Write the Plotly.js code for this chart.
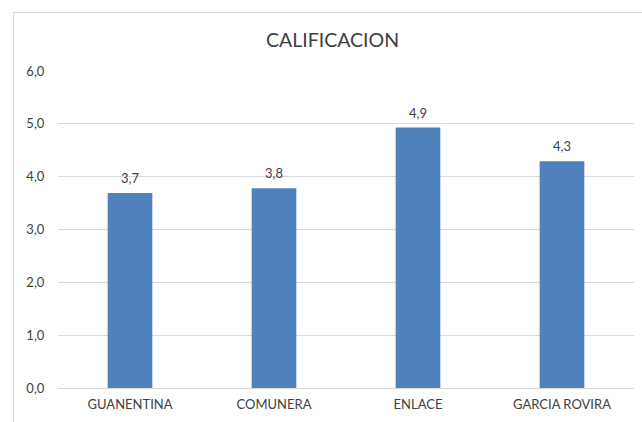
<!DOCTYPE html>
<html>
<head>
<meta charset="utf-8">
<script src="https://cdn.plot.ly/plotly-3.0.1.min.js"></script>
<style>
html,body{margin:0;padding:0;background:#fff;}
#wrap{position:relative;width:642px;height:422px;overflow:hidden;}
#frame{position:absolute;left:13px;top:12px;width:700px;height:500px;border:1px solid #d9d9d9;box-sizing:border-box;pointer-events:none;}
#chart{position:absolute;left:0;top:0;width:642px;height:422px;}
</style>
</head>
<body>
<div id="wrap">
<div id="chart"></div>
<div id="frame"></div>
</div>
<script>
var categories = ["GUANENTINA", "COMUNERA", "ENLACE", "GARCIA ROVIRA"];
var values = [3.69, 3.78, 4.93, 4.29];
var yTicks = [0, 1, 2, 3, 4, 5, 6];

var FONT = "Lato, 'Open Sans', sans-serif";

var trace = {
  type: "bar",
  x: categories,
  y: values,
  marker: {color: "#4F81BD"},
  hoverinfo: "none"
};

var labels = categories.map(function (c, i) {
  return {
    x: c, y: values[i], xref: "x", yref: "y",
    text: values[i].toFixed(1).replace(".", ","),
    showarrow: false, yanchor: "bottom", yshift: 5,
    font: {family: FONT, size: 13, color: "#404040"}
  };
});

var layout = {
  width: 642,
  height: 422,
  separators: ",.",
  paper_bgcolor: "#ffffff",
  plot_bgcolor: "#ffffff",
  margin: {l: 58, r: 8, t: 71, b: 34},
  bargap: 0.69,
  showlegend: false,
  font: {family: FONT, color: "#595959", size: 13},
  title: {
    text: "CALIFICACION",
    font: {family: FONT, size: 19.5, color: "#404040"},
    x: 0.518, xref: "container", xanchor: "center",
    y: 0.905, yref: "container", yanchor: "middle"
  },
  annotations: labels,
  xaxis: {
    type: "category",
    showgrid: false,
    showline: false,
    zeroline: false,
    ticks: "outside",
    ticklen: 4,
    tickcolor: "rgba(0,0,0,0)",
    tickfont: {size: 13, color: "#404040"}
  },
  yaxis: {
    range: [0, 6],
    tickvals: yTicks,
    tickformat: ".1f",
    showgrid: true,
    gridcolor: "#d9d9d9",
    gridwidth: 1,
    zeroline: true,
    zerolinecolor: "#d9d9d9",
    zerolinewidth: 1,
    showline: false,
    ticks: "outside",
    ticklen: 10,
    tickcolor: "rgba(0,0,0,0)",
    tickfont: {size: 13, color: "#404040"}
  }
};

Plotly.newPlot("chart", [trace], layout, {displayModeBar: false, staticPlot: true});
</script>
</body>
</html>
